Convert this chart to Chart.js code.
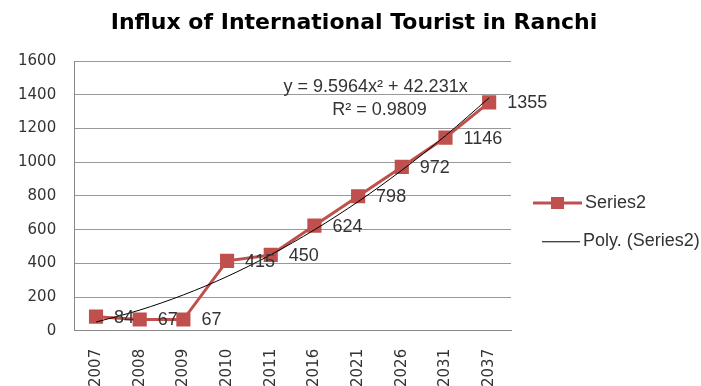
<!DOCTYPE html>
<html>
<head>
<meta charset="utf-8">
<script src="https://cdn.jsdelivr.net/npm/chart.js@4/dist/chart.umd.min.js"></script>
<style>
  html, body { margin: 0; padding: 0; background: #fff; overflow: hidden; }
  #wrap { width: 701px; height: 405px; position: relative; }
</style>
</head>
<body>
<div id="wrap"><canvas id="c" width="701" height="405"></canvas></div>
<script>
const categories = ['2007', '2008', '2009', '2010', '2011', '2016', '2021', '2026', '2031', '2037'];
const series2 = [84, 67, 67, 415, 450, 624, 798, 972, 1146, 1355];
const polyTrend = [52, 123, 213, 322, 451, 599, 766, 952, 1157, 1382];
const yMin = 0, yMax = 1600, yStep = 200;
const titleText = 'Influx of International Tourist in Ranchi';
const equationText = 'y = 9.5964x\u00B2 + 42.231x';
const r2Text = 'R\u00B2 = 0.9809';
const seriesName = 'Series2';
const trendName = 'Poly. (Series2)';

const RED = '#C0504D';
const LABEL_FONT = '18px "Liberation Sans", Arial, sans-serif';

const overlay = {
  id: 'overlay',
  afterDatasetsDraw(chart) {
    const ctx = chart.ctx;
    const meta = chart.getDatasetMeta(1);
    ctx.save();
    ctx.font = LABEL_FONT;
    ctx.fillStyle = '#333';
    ctx.textAlign = 'left';
    ctx.textBaseline = 'middle';
    meta.data.forEach((pt, i) => {
      ctx.fillText(String(series2[i]), pt.x + 18, pt.y + 1);
    });
    ctx.restore();
  },
  afterDraw(chart) {
    const ctx = chart.ctx;
    const a = chart.chartArea;
    const ys = chart.scales.y;
    ctx.save();
    // title
    ctx.font = 'bold 22px "DejaVu Sans", Verdana, sans-serif';
    ctx.fillStyle = '#000';
    ctx.textAlign = 'center';
    ctx.textBaseline = 'middle';
    ctx.fillText(titleText, 354, 23);

    // trendline equation
    ctx.font = LABEL_FONT;
    ctx.fillStyle = '#333';
    const ex = a.left + (a.right - a.left) * 0.69;
    ctx.fillText(equationText, ex, ys.getPixelForValue(1445));
    ctx.fillText(r2Text, ex + 4, ys.getPixelForValue(1307));

    // legend
    const lx = a.right + 22;
    const ly1 = ys.getPixelForValue(758);
    const ly2 = ys.getPixelForValue(531);
    ctx.strokeStyle = RED;
    ctx.lineWidth = 3;
    ctx.beginPath(); ctx.moveTo(lx, ly1); ctx.lineTo(lx + 49, ly1); ctx.stroke();
    ctx.fillStyle = RED;
    ctx.fillRect(lx + 18, ly1 - 6, 13, 12);
    ctx.strokeStyle = '#000';
    ctx.lineWidth = 1;
    ctx.beginPath(); ctx.moveTo(lx + 9, ly2 + 0.5); ctx.lineTo(lx + 47, ly2 + 0.5); ctx.stroke();
    ctx.font = '18px "Liberation Sans", Arial, sans-serif';
    ctx.fillStyle = '#333';
    ctx.textAlign = 'left';
    ctx.fillText(seriesName, lx + 52, ly1);
    ctx.fillText(trendName, lx + 50, ly2);
    ctx.restore();
  }
};

new Chart(document.getElementById('c'), {
  type: 'line',
  data: {
    labels: categories,
    datasets: [
      {
        label: trendName,
        data: polyTrend,
        borderColor: '#000',
        borderWidth: 1,
        pointRadius: 0,
        fill: false,
        cubicInterpolationMode: 'monotone',
        order: 0
      },
      {
        label: seriesName,
        data: series2,
        borderColor: RED,
        backgroundColor: RED,
        borderWidth: 3,
        pointStyle: 'rect',
        pointRadius: 10,
        pointBorderWidth: 0,
        pointBackgroundColor: RED,
        tension: 0,
        fill: false,
        order: 1
      }
    ]
  },
  options: {
    responsive: false,
    animation: false,
    devicePixelRatio: 1,
    layout: { padding: { left: 0, right: 190, top: 61, bottom: 0 } },
    plugins: {
      legend: { display: false },
      tooltip: { enabled: false },
      title: { display: false }
    },
    scales: {
      x: {
        type: 'category',
        offset: true,
        grid: { display: false, drawTicks: false },
        border: { display: true, color: '#888', width: 1 },
        ticks: {
          color: '#333',
          font: { family: '"DejaVu Sans", Verdana, sans-serif', size: 15 },
          minRotation: 90,
          maxRotation: 90,
          padding: 18,
          autoSkip: false
        }
      },
      y: {
        min: yMin,
        max: yMax,
        grid: { color: '#999', lineWidth: 1, drawTicks: false },
        border: { display: true, color: '#888', width: 1 },
        ticks: {
          stepSize: yStep,
          color: '#333',
          font: { family: '"DejaVu Sans", Verdana, sans-serif', size: 15 },
          padding: 18,
          callback: (v) => String(v)
        }
      }
    }
  },
  plugins: [overlay]
});
</script>
</body>
</html>
